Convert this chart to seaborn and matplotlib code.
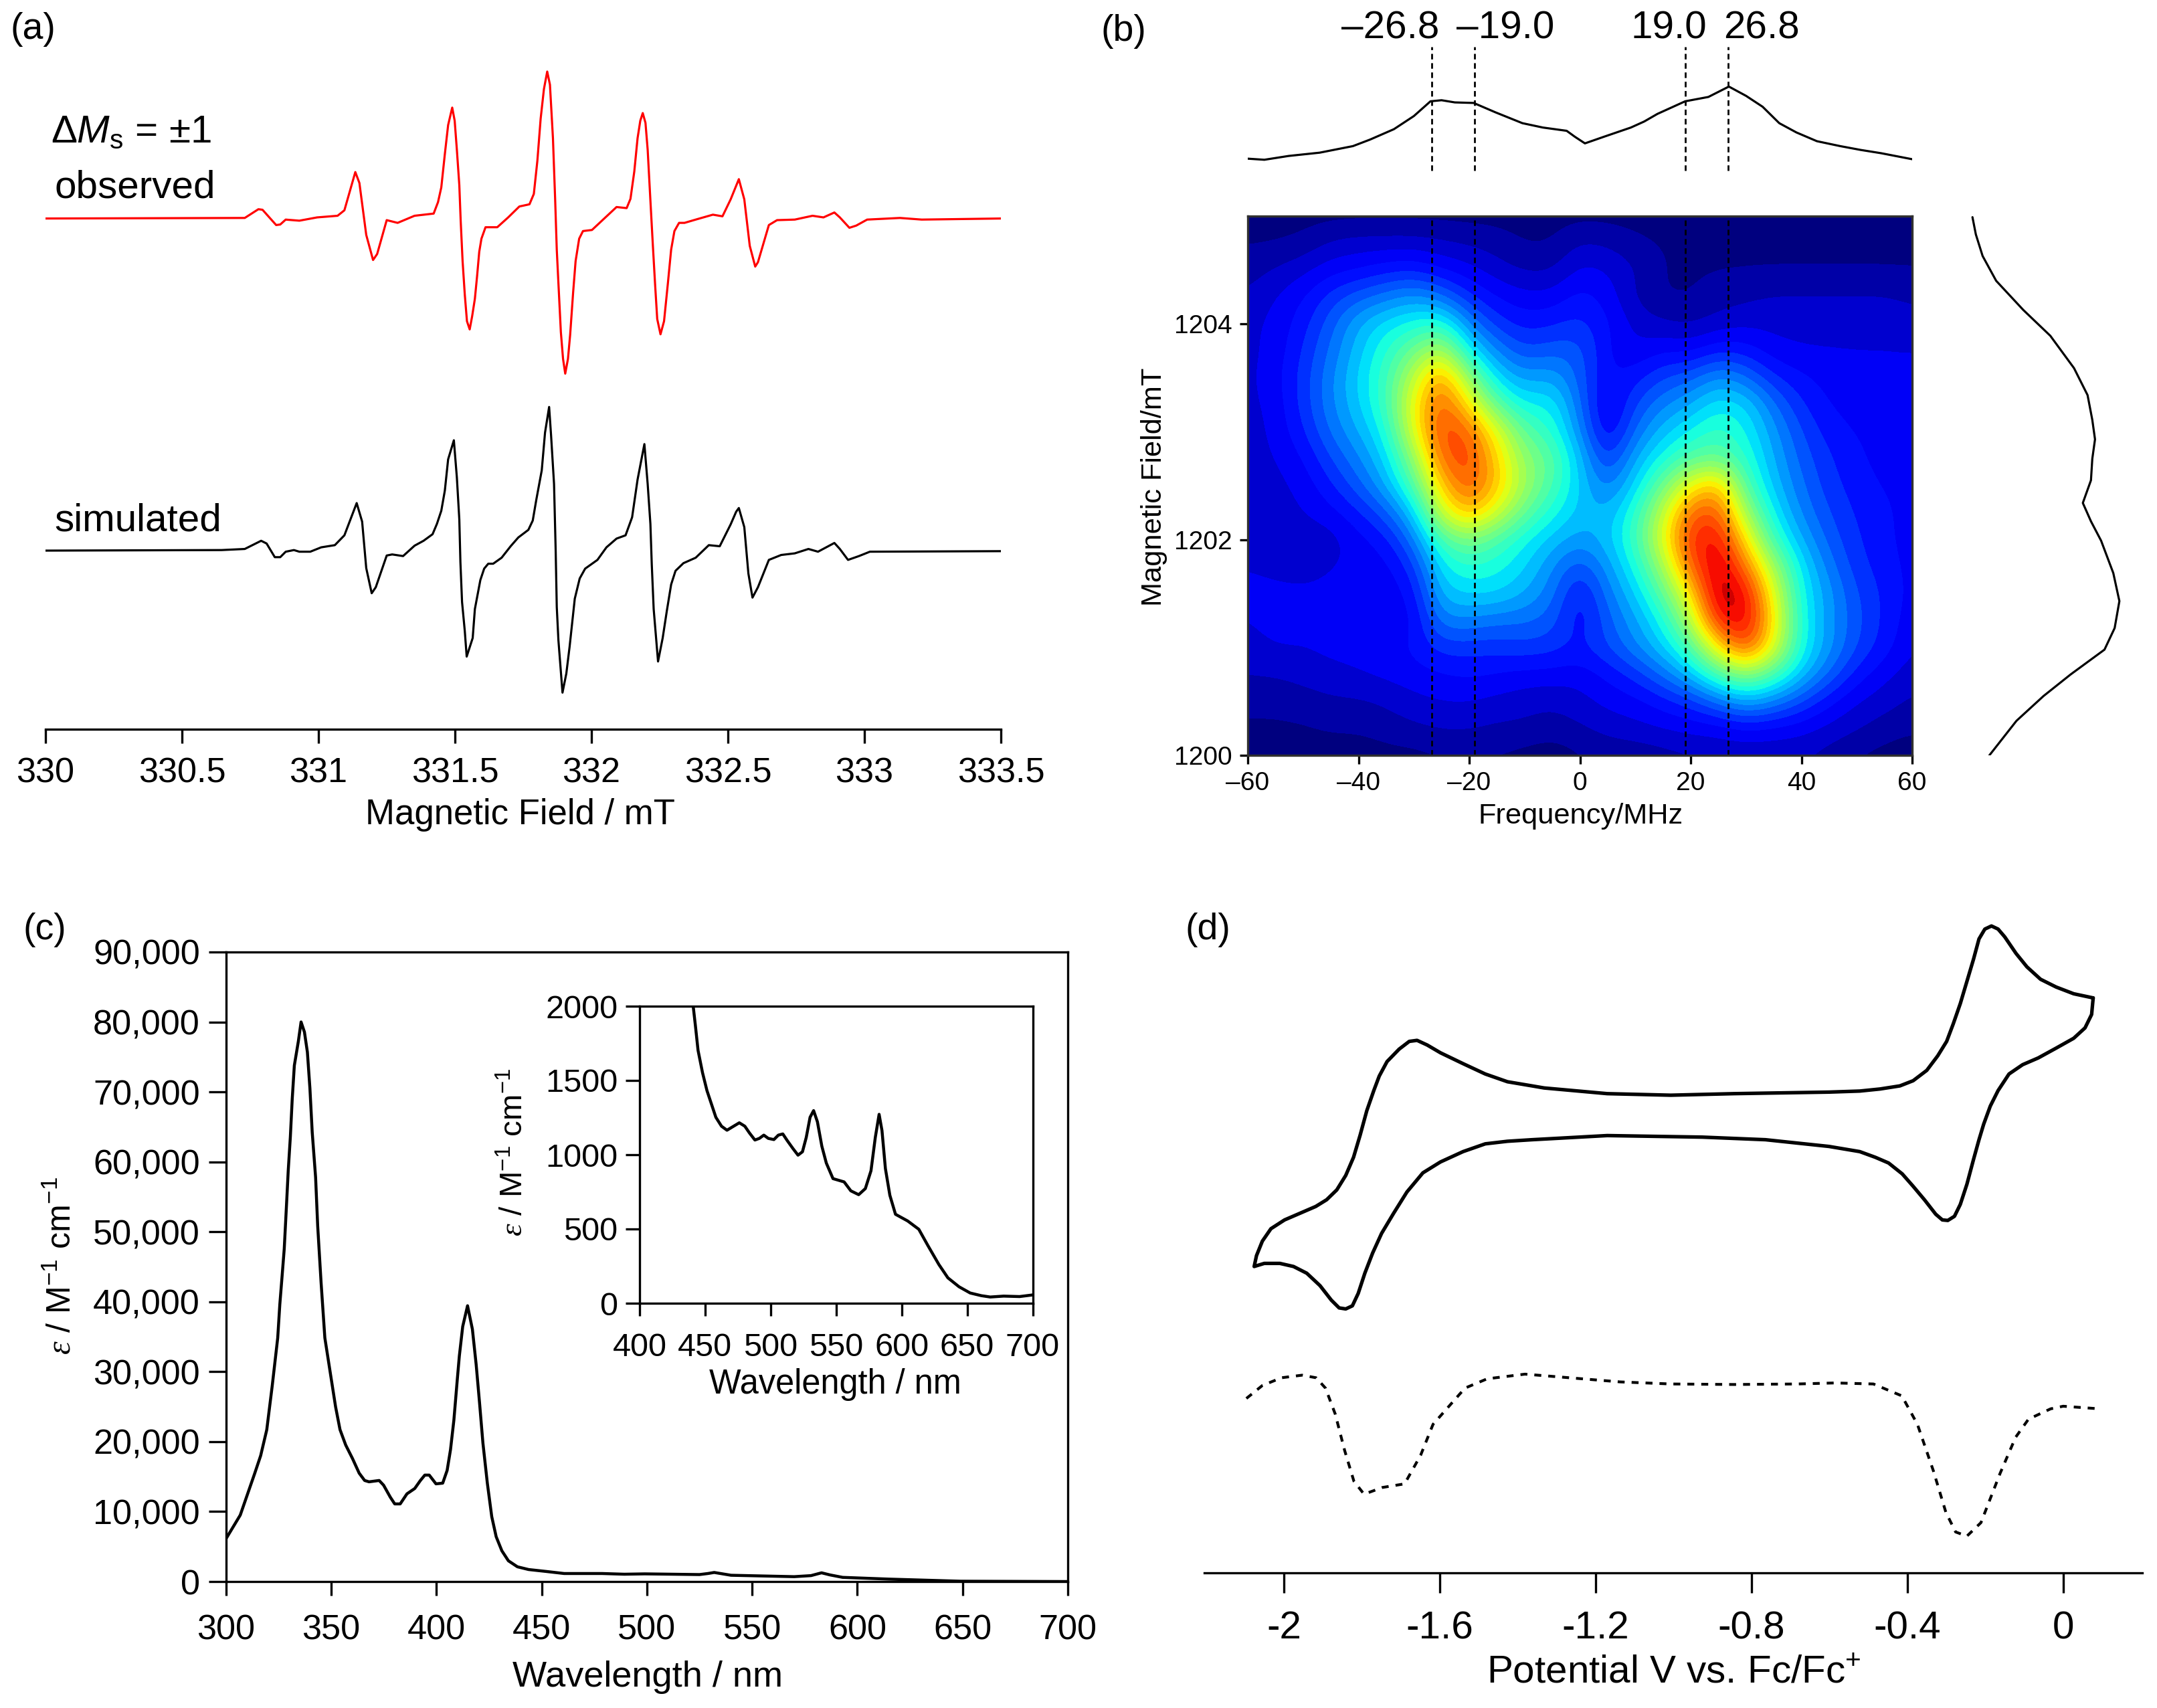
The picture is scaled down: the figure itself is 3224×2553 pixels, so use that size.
import matplotlib
matplotlib.use("Agg")
import matplotlib.pyplot as plt
import matplotlib.transforms as mtransforms
from matplotlib.colors import BoundaryNorm
import numpy as np
import seaborn as sns

W, H = 3224, 2553

# (a) EPR spectra
field_obs = [330.00, 330.73, 330.78, 330.795, 330.845, 330.86, 330.88, 330.93, 330.995, 331.07, 331.095, 331.135,
             331.15, 331.175, 331.20, 331.215, 331.25, 331.29,
             331.352, 331.422, 331.438, 331.450, 331.463, 331.475, 331.490, 331.499, 331.507, 331.516, 331.521,
             331.528, 331.536, 331.544, 331.554, 331.563, 331.573, 331.581, 331.589, 331.597, 331.612, 331.655,
             331.695, 331.736, 331.773, 331.789, 331.802, 331.814, 331.826, 331.838, 331.848, 331.859, 331.867,
             331.873, 331.879, 331.888, 331.896, 331.904, 331.914, 331.922, 331.933, 331.942, 331.955, 331.969,
             332.002, 332.047, 332.092, 332.129, 332.143, 332.157, 332.169, 332.179, 332.188, 332.198, 332.206,
             332.217, 332.225, 332.233, 332.241, 332.253, 332.266, 332.280, 332.292, 332.304, 332.321, 332.341,
             332.382, 332.445, 332.48, 332.51, 332.54, 332.56, 332.58, 332.60, 332.61, 332.65,
             332.68, 332.745, 332.81, 332.85, 332.89, 332.91, 332.945, 332.97, 333.01, 333.13, 333.21, 333.50]
epr_obs = [0, 1, 17, 16, -12, -11, -2, -4, 2, 5, 15, 85,
           65, -30, -76, -65, -3, -8,
           5, 9, 30, 57, 118, 171, 203, 179, 126, 61, -4,
           -78, -139, -188, -203, -179, -147, -106, -61, -37, -16, -16,
           2, 22, 26, 45, 106, 183, 237, 269, 245, 147, 36,
           -57, -118, -208, -257, -284, -257, -213, -135, -78, -37, -23,
           -21, 0, 21, 19, 36, 86, 147, 179, 193, 175, 126,
           24, -49, -119, -184, -212, -188, -119, -57, -23, -8, -8,
           -2, 7, 4, 35, 72, 35, -50, -88, -80, -12,
           -3, -2, 5, 2, 11, 2, -17, -13, -2, 1, -2, 0]
field_sim = [330.00, 330.645, 330.73, 330.79, 330.81, 330.84, 330.86, 330.88, 330.91, 330.93, 330.97, 331.01,
             331.06, 331.095, 331.14, 331.16, 331.175, 331.195, 331.21, 331.25, 331.27, 331.31,
             331.352, 331.385, 331.418, 331.434, 331.450, 331.463, 331.475, 331.496, 331.507, 331.516, 331.520,
             331.526, 331.536, 331.543, 331.565, 331.573, 331.593, 331.607, 331.622, 331.640, 331.671, 331.704,
             331.732, 331.769, 331.785, 331.798, 331.818, 331.830, 331.845, 331.852, 331.863, 331.869, 331.873,
             331.879, 331.894, 331.908, 331.920, 331.939, 331.957, 331.977, 332.022, 332.055, 332.092, 332.125,
             332.149, 332.169, 332.194, 332.206, 332.216, 332.221, 332.228, 332.244, 332.261, 332.276, 332.292,
             332.308, 332.337, 332.382, 332.43, 332.47, 332.51, 332.53, 332.54, 332.56, 332.575, 332.59, 332.61,
             332.65, 332.695, 332.745, 332.795, 332.83, 332.89, 332.91, 332.94, 332.98, 333.02, 333.50]
epr_sim = [0, 1, 3, 18, 13, -12, -12, -2, 1, -2, -2, 6,
           10, 28, 87, 53, -32, -78, -67, -9, -7, -10,
           9, 18, 30, 49, 73, 110, 167, 202, 134, 57, -21,
           -94, -147, -194, -160, -107, -54, -33, -24, -24, -13, 8,
           24, 38, 55, 93, 147, 216, 263, 212, 122, 0, -103,
           -164, -260, -225, -176, -88, -51, -33, -17, 6, 22, 28,
           61, 130, 195, 122, 49, -25, -107, -203, -160, -111, -62,
           -37, -23, -13, 10, 8, 48, 71, 78, 43, -42, -86, -67,
           -17, -8, -5, 3, -2, 14, 3, -17, -10, -2, -1]
sim_offset = -608
field_ticks = [330, 330.5, 331, 331.5, 332, 332.5, 333, 333.5]
field_labels = ["330", "330.5", "331", "331.5", "332", "332.5", "333", "333.5"]

# (b) field-swept 2D map, rows from 1205 mT down to 1200 mT, columns -60..60 MHz
map_values = [
    [2, 2, 2, 2, 2, 2, 2, 2, 2, 2, 2, 2, 2, 2, 2, 2, 2, 2, 2, 2, 2, 2, 2, 2, 2],
    [3, 3, 4, 7, 8, 8, 8, 7, 6, 5, 3, 3, 7, 6, 4, 3, 3, 3, 3, 3, 3, 3, 3, 3, 3],
    [5, 7, 9, 12, 13, 15, 16, 13, 11, 8, 6, 6, 11, 10, 7, 3, 3, 3, 3, 3, 3, 3, 3, 3, 3],
    [7, 10, 13, 18, 22, 25, 28, 24, 17, 13, 11, 11, 15, 12, 6, 3, 3, 5, 6, 7, 7, 7, 7, 7, 6],
    [9, 11, 15, 22, 30, 35, 38, 40, 26, 18, 15, 16, 18, 14, 9, 7, 6, 8, 9, 9, 9, 9, 9, 9, 8],
    [9, 11, 17, 24, 32, 40, 48, 58, 36, 26, 20, 22, 22, 13, 10, 13, 12, 16, 15, 11, 10, 10, 10, 10, 10],
    [9, 12, 18, 26, 34, 42, 58, 76, 52, 34, 28, 30, 22, 13, 15, 20, 22, 28, 24, 17, 14, 12, 11, 11, 11],
    [9, 11, 18, 26, 33, 42, 64, 82, 66, 46, 36, 37, 24, 10, 20, 26, 30, 36, 34, 24, 17, 13, 12, 11, 11],
    [8, 11, 16, 24, 30, 38, 62, 84, 80, 62, 46, 40, 27, 11, 24, 32, 37, 42, 37, 28, 20, 15, 13, 12, 11],
    [8, 10, 13, 20, 26, 34, 52, 80, 84, 68, 52, 46, 32, 17, 30, 38, 45, 47, 40, 30, 22, 17, 14, 12, 11],
    [7, 9, 11, 16, 22, 30, 44, 70, 82, 70, 54, 44, 33, 24, 34, 48, 64, 72, 44, 32, 24, 18, 15, 13, 12],
    [6, 8, 10, 12, 16, 22, 33, 60, 72, 60, 47, 38, 32, 30, 40, 58, 80, 82, 54, 36, 26, 20, 16, 14, 12],
    [8, 7, 8, 8, 12, 15, 25, 44, 50, 44, 37, 32, 28, 32, 42, 62, 86, 90, 66, 42, 30, 22, 17, 14, 12],
    [10, 9, 8, 10, 11, 12, 18, 36, 40, 38, 34, 27, 20, 28, 38, 54, 80, 94, 78, 54, 35, 25, 18, 15, 12],
    [11, 11, 11, 11, 11, 11, 14, 32, 34, 34, 30, 25, 14, 25, 33, 46, 66, 96, 90, 62, 37, 28, 20, 16, 12],
    [10, 12, 11, 11, 11, 11, 12, 26, 26, 24, 24, 22, 13, 22, 29, 38, 56, 88, 92, 66, 38, 28, 21, 16, 11],
    [8, 10, 10, 11, 11, 12, 14, 18, 18, 18, 19, 18, 16, 20, 26, 33, 44, 66, 84, 62, 38, 28, 20, 15, 10],
    [7, 7, 8, 9, 10, 11, 12, 13, 14, 13, 12, 12, 11, 14, 18, 24, 32, 44, 52, 44, 32, 23, 15, 11, 8],
    [4, 4, 5, 6, 6, 7, 9, 10, 10, 9, 8, 7, 9, 11, 12, 15, 18, 24, 30, 26, 20, 14, 10, 8, 6],
    [3, 3, 3, 4, 4, 5, 6, 7, 7, 6, 6, 5, 6, 8, 9, 10, 11, 11, 13, 12, 11, 9, 7, 5, 4],
    [1, 1, 1, 1, 1, 2, 2, 3, 3, 3, 2, 1, 3, 4, 4, 5, 6, 7, 7, 7, 7, 5, 3, 2, 1],
]
marked_freq = [-26.8, -19.0, 19.0, 26.8]
marked_labels = ["\u201326.8", "\u201319.0", "19.0", "26.8"]
freq_proj = [-60, -57, -52.6, -47, -41, -37.9, -33.6, -30, -27, -25, -22.6, -19.2, -15.3, -10.4, -6.7,
             -2.4, -0.9, 0.9, 4.3, 9.2, 11.6, 14, 19, 23.2, 26.9, 30, 33, 36, 39.1, 42.8, 47, 50.7, 54.4, 60]
freq_proj_int = [10, 8, 15, 21, 33, 45, 64, 88, 115, 117, 113, 112, 95, 75, 67,
                 61, 50, 38, 50, 67, 78, 92, 115, 123, 142, 125, 105, 75, 58, 42, 33, 26, 20, 9]
field_proj = [1204.99, 1204.83, 1204.63, 1204.40, 1204.13, 1203.89, 1203.59, 1203.34, 1203.11, 1202.93, 1202.75,
              1202.55, 1202.34, 1202.17, 1201.99, 1201.69, 1201.43, 1201.18, 1200.98, 1200.75, 1200.55, 1200.32,
              1200.00]
field_proj_int = [5, 10, 20, 40, 80, 120, 155, 175, 182, 186, 182,
                  180, 168, 180, 195, 213, 222, 215, 200, 150, 110, 70, 30]

# (c) absorption spectrum
wavelength = [300, 306.8, 313.6, 316.5, 319.4, 322, 324.6, 325.6, 326.7, 327.7, 328.8, 329.6, 330.6, 331.5, 332.5,
              334.4, 335.7, 337.3, 338.7, 339.9, 341.0, 342.6, 343.6, 345.2, 347.0, 352.1, 354.2, 356.9, 360.1,
              363.3, 365.9, 368.0, 372.8, 374.9, 378.1, 380.2, 382.8, 386.0, 389.7, 392.4, 394.5, 396.6, 399.8,
              403.0, 405.1, 406.7, 408.3, 409.9, 410.9, 412.5, 414.8, 417.1, 418.9, 420.5, 422.1, 424.2, 426.3,
              428.4, 431.1, 434.2, 438.5, 443.8, 452.3, 460.7, 478.7, 489.3, 499, 525, 529, 532, 536, 540, 570,
              578, 583, 587, 593, 615, 649, 700]
epsilon = [6100, 9500, 15400, 18000, 21700, 28000, 34830, 39620, 43730, 47560, 53970, 58760, 63540, 69000, 73780,
           77220, 80000, 78560, 75690, 70530, 64210, 57800, 50810, 42780, 34830, 24980, 21720, 19520, 17610,
           15500, 14450, 14260, 14450, 13780, 12060, 11100, 11100, 12540, 13300, 14450, 15220, 15220, 13970,
           14070, 15890, 18850, 23060, 28800, 32250, 36460, 39430, 36080, 31000, 25550, 19810, 14070, 9280,
           6410, 4400, 2970, 2110, 1720, 1440, 1150, 1150, 1050, 1100, 1000, 1150, 1300, 1100, 900, 700,
           850, 1250, 950, 600, 350, 50, 0]
eps_ticks = [0, 10000, 20000, 30000, 40000, 50000, 60000, 70000, 80000, 90000]
eps_labels = ["0", "10,000", "20,000", "30,000", "40,000", "50,000", "60,000", "70,000", "80,000", "90,000"]
wl_ticks = [300, 350, 400, 450, 500, 550, 600, 650, 700]
wavelength_zoom = [440.9, 442.6, 444.6, 448, 451.4, 454.8, 458.2, 462.5, 466.7, 471, 476.1, 480.3, 483.8, 488,
                   491.4, 494.8, 498.2, 502.5, 505.9, 509.3, 512.7, 517, 520.9, 524.3, 527.2, 530.1, 532.8, 535.7,
                   539.1, 542.5, 547.6, 556.1, 561.2, 567.2, 572.3, 576.6, 579.9, 582.8, 585, 587.6, 591, 595.3,
                   604.6, 613.1, 620, 628.4, 635.3, 643.8, 652.3, 660.8, 667.6, 677.8, 690, 700]
epsilon_zoom = [2000, 1868, 1703, 1553, 1432, 1342, 1252, 1192, 1165, 1188, 1215, 1192, 1147, 1099,
                1110, 1132, 1110, 1102, 1132, 1140, 1095, 1042, 997, 1020, 1117, 1252, 1297, 1222,
                1057, 944, 839, 817, 757, 731, 772, 892, 1117, 1272, 1162, 907, 727, 599,
                554, 498, 389, 261, 171, 111, 69, 51, 42, 48, 45, 56]
zoom_eps_ticks = [0, 500, 1000, 1500, 2000]
zoom_wl_ticks = [400, 450, 500, 550, 600, 650, 700]

# (d) cyclic voltammogram and differential pulse trace
cv_potential = [0.077, 0.027, -0.018, -0.058, -0.093, -0.121, -0.150, -0.167, -0.184, -0.201, -0.216, -0.230, -0.247,
                -0.264, -0.282, -0.299, -0.322, -0.350, -0.385, -0.419, -0.470, -0.522, -0.601, -0.845, -1.007,
                -1.170, -1.332, -1.363, -1.426, -1.483, -1.540, -1.598, -1.632, -1.658, -1.678, -1.704, -1.735,
                -1.755, -1.769, -1.787, -1.804, -1.821, -1.841, -1.864, -1.890, -1.918, -1.958, -1.998, -2.033,
                -2.055, -2.070, -2.076,
                -2.050, -2.010, -1.975, -1.941, -1.907, -1.878, -1.858, -1.841, -1.824, -1.809, -1.792, -1.772,
                -1.749, -1.718, -1.684, -1.643, -1.598, -1.540, -1.483, -1.426, -1.363, -1.170, -0.926, -0.764,
                -0.601, -0.522, -0.482, -0.448, -0.413, -0.385, -0.356, -0.327, -0.310, -0.296, -0.279, -0.264,
                -0.247, -0.230, -0.216, -0.204, -0.187, -0.167, -0.139, -0.104, -0.064, -0.018, 0.027, 0.056,
                0.073, 0.077]
cv_current = [304, 312, 325, 340, 364, 390, 422, 437, 443, 437, 418, 379, 336,
              293, 254, 220, 192, 164, 144, 134, 128, 124, 122, 119, 116,
              119, 130, 134, 142, 157, 177, 198, 213, 222, 220, 205, 181,
              153, 125, 86, 39, -4, -39, -67, -86, -99, -112, -125, -142,
              -166, -194, -215,
              -209, -209, -215, -228, -252, -280, -295, -297, -291, -267, -228, -189,
              -151, -112, -71, -34, -13, 7, 22, 27, 30, 38, 35, 30,
              17, 7, -4, -15, -36, -60, -86, -114, -125, -126, -118, -95,
              -56, -8, 30, 60, 95, 125, 157, 175, 188, 207, 226, 246,
              272, 304]
dpv_potential = [-2.096, -2.055, -2.006, -1.953, -1.917, -1.893, -1.868, -1.844, -1.820, -1.794, -1.747, -1.690,
                 -1.649, -1.617, -1.576, -1.535, -1.478, -1.381, -1.267, -1.137, -1.007, -0.845, -0.682, -0.585,
                 -0.487, -0.414, -0.374, -0.333, -0.301, -0.276, -0.247, -0.211, -0.162, -0.122, -0.089, -0.032,
                 0, 0.093]
dpv_current = [-470, -445, -430, -425, -430, -450, -500, -570, -630, -655, -642, -635,
               -580, -520, -485, -450, -432, -423, -430, -438, -442, -443, -442, -440,
               -442, -465, -520, -610, -690, -728, -736, -710, -615, -545, -510, -490,
               -485, -490]
potential_ticks = [-2, -1.6, -1.2, -0.8, -0.4, 0]
potential_labels = ["-2", "-1.6", "-1.2", "-0.8", "-0.4", "0"]

sns.set_theme(style="ticks", rc={"axes.linewidth": 1.2, "xtick.major.width": 1.2, "ytick.major.width": 1.2})
plt.rcParams["font.family"] = ["Liberation Sans", "DejaVu Sans"]
plt.rcParams["mathtext.fontset"] = "custom"
plt.rcParams["mathtext.rm"] = "Liberation Sans"
plt.rcParams["mathtext.it"] = "Liberation Sans:italic"
plt.rcParams["mathtext.cal"] = "Liberation Serif:italic"
plt.rcParams["mathtext.default"] = "regular"
plt.rcParams["axes.edgecolor"] = "black"
plt.rcParams["xtick.color"] = "black"
plt.rcParams["ytick.color"] = "black"
plt.rcParams["text.color"] = "black"
plt.rcParams["axes.labelcolor"] = "black"

fig = plt.figure(figsize=(W / 200, H / 200), dpi=200)
px = mtransforms.Affine2D().scale(1 / W, -1 / H).translate(0, 1) + fig.transFigure


def px_axes(left, top, right, bottom):
    return fig.add_axes([left / W, 1 - bottom / H, (right - left) / W, (bottom - top) / H])


def draw(ax, x, y, lw=1.0, color="black", **kws):
    sns.lineplot(x=x, y=y, ax=ax, color=color, lw=lw, estimator=None, sort=False, **kws)


def axis_labels(ax, xlabel=None, xpos=None, ylabel=None, ypos=None, xsize=19, ysize=19):
    if xlabel:
        ax.set_xlabel(xlabel, fontsize=xsize, va="center")
        ax.xaxis.set_label_coords(*xpos, transform=px)
    else:
        ax.set_xlabel("")
    if ylabel:
        ax.set_ylabel(ylabel, fontsize=ysize, va="center")
        ax.yaxis.set_label_coords(*ypos, transform=px)
    else:
        ax.set_ylabel("")


# panel a
ax_a = px_axes(68, 0, 1496, 1090)
draw(ax_a, field_obs, epr_obs, color="#ff0000", lw=1.15)
draw(ax_a, field_sim, np.array(epr_sim) + sim_offset, lw=1.15)
ax_a.set_xlim(330, 333.5)
ax_a.set_ylim(-935, 400)
ax_a.set_xticks(field_ticks, field_labels)
ax_a.set_yticks([])
ax_a.tick_params(axis="x", labelsize=18.8, length=7.4, pad=7.5)
sns.despine(ax=ax_a, left=True)
axis_labels(ax_a, "Magnetic Field / mT", (778, 1218))
ax_a.patch.set_alpha(0)
fig.text(76 / W, 1 - 198 / H, "$\\Delta \\mathit{M}_{s}$ = \u00b11", fontsize=21, va="center")
fig.text(81 / W, 1 - 280 / H, "observed", fontsize=21, va="center")
fig.text(81 / W, 1 - 779 / H, "simulated", fontsize=21, va="center")

# panel b
ax_b = px_axes(1865, 323, 2858, 1129)
levels = np.linspace(0, 100, 31)
ax_b.imshow(map_values, extent=(-62.5, 62.5, 1199.875, 1205.125), aspect="auto", cmap=plt.get_cmap("jet", 30),
            norm=BoundaryNorm(levels, 30), interpolation="bicubic", interpolation_stage="data")
ax_b.vlines(marked_freq, 1200, 1205, color="black", lw=1.0, linestyles=(0, (3, 2)))
ax_b.set_xlim(-60, 60)
ax_b.set_ylim(1200, 1205)
ax_b.set_xticks(range(-60, 61, 20), [str(t).replace("-", "\u2013") for t in range(-60, 61, 20)])
ax_b.set_yticks([1200, 1202, 1204])
ax_b.tick_params(labelsize=14, length=4.5, pad=4)
for spine in ax_b.spines.values():
    spine.set_color("#303030")
axis_labels(ax_b, "Frequency/MHz", (2363, 1220), "Magnetic Field/mT", (1725, 728), xsize=15.6, ysize=15.6)

ax_top = px_axes(1865, 60, 2858, 269)
draw(ax_top, freq_proj, freq_proj_int, lw=1.15)
ax_top.vlines(marked_freq, -12, 215, color="black", lw=1.0, linestyles=(0, (3, 2)))
ax_top.set_xlim(-60, 60)
ax_top.set_ylim(-29, 227)
ax_top.axis("off")

ax_side = px_axes(2933, 323, 3186, 1129)
draw(ax_side, field_proj_int, field_proj, lw=1.15)
ax_side.set_xlim(-10, 240)
ax_side.set_ylim(1200, 1205)
ax_side.axis("off")

for x_pos, label in zip([2078, 2250, 2494, 2633], marked_labels):
    fig.text(x_pos / W, 1 - 42 / H, label, fontsize=21, ha="center", va="center")

# panel c
ax_c = px_axes(337.7, 1423, 1596, 2364)
draw(ax_c, wavelength, epsilon, lw=1.6)
ax_c.set_xlim(300, 700)
ax_c.set_ylim(0, 90000)
ax_c.set_xticks(wl_ticks)
ax_c.set_yticks(eps_ticks, eps_labels)
ax_c.tick_params(axis="x", labelsize=18.8, length=7.6, pad=10)
ax_c.tick_params(axis="y", labelsize=18.8, length=9.5, pad=4.5)
eps_text = r"$\mathcal{\varepsilon}$ / M$^{-1}$ cm$^{-1}$"
axis_labels(ax_c, "Wavelength / nm", (968, 2507), eps_text, (92, 1892), xsize=19.5, ysize=18)

ax_i = px_axes(956, 1504, 1543.5, 1948)
draw(ax_i, wavelength_zoom, epsilon_zoom, lw=1.6)
ax_i.set_xlim(400, 700)
ax_i.set_ylim(0, 2000)
ax_i.set_xticks(zoom_wl_ticks)
ax_i.set_yticks(zoom_eps_ticks)
ax_i.tick_params(axis="x", labelsize=17.5, length=7, pad=9)
ax_i.tick_params(axis="y", labelsize=17.5, length=7.7, pad=4)
axis_labels(ax_i, "Wavelength / nm", (1248, 2069), eps_text, (769, 1722), xsize=18.2, ysize=17)

# panel d
ax_d = px_axes(1800, 1340, 3202, 2351)
draw(ax_d, cv_potential, cv_current, lw=1.9)
draw(ax_d, dpv_potential, dpv_current, lw=1.5, linestyle=(0, (2.5, 2.5)))
ax_d.set_xlim(-2.204, 0.203)
ax_d.set_ylim(-807, 500)
ax_d.set_xticks(potential_ticks, potential_labels)
ax_d.set_yticks([])
ax_d.tick_params(axis="x", labelsize=21, length=10.8, pad=9.5)
sns.despine(ax=ax_d, left=True)
ax_d.patch.set_alpha(0)
axis_labels(ax_d, "Potential V vs. Fc/Fc$^{+}$", (2502, 2500), xsize=21)

for x_pos, y_pos, tag in [(49, 44, "(a)"), (1679, 47, "(b)"), (67, 1390, "(c)"), (1805, 1390, "(d)")]:
    fig.text(x_pos / W, 1 - y_pos / H, tag, fontsize=20, ha="center", va="center")

fig.savefig("out.png", dpi=200)
plt.close(fig)
